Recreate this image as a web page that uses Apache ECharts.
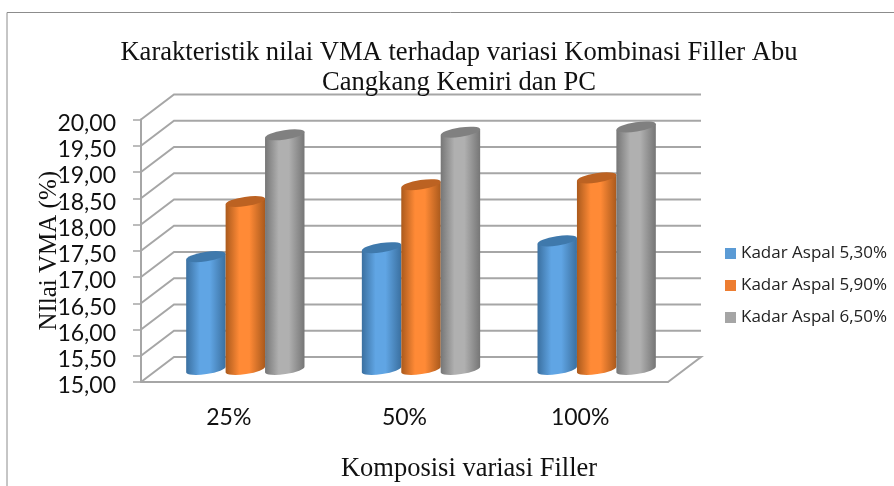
<!DOCTYPE html>
<html>
<head>
<meta charset="utf-8">
<style>html,body{margin:0;padding:0;background:#fff}#chart{width:894px;height:486px}</style>
<script src="https://cdn.jsdelivr.net/npm/echarts@6/dist/echarts.min.js"></script>
</head>
<body>
<div id="chart"></div>
<script>
var categories = ['25%', '50%', '100%'];
var seriesNames = ['Kadar Aspal 5,30%', 'Kadar Aspal 5,90%', 'Kadar Aspal 6,50%'];
var kadar530 = [17.15, 17.32, 17.45];
var kadar590 = [18.2, 18.52, 18.65];
var kadar650 = [19.47, 19.52, 19.62];
var yTicks = [15, 15.5, 16, 16.5, 17, 17.5, 18, 18.5, 19, 19.5, 20];

var legendColors = ['#5B9BD5', '#ED7D31', '#A5A5A5'];
// dark edge, bright middle, top cap
var shades = [
    ['#3A6F9F', '#60A5E4', '#3F79AC'],
    ['#A9591C', '#FF8A36', '#BC6222'],
    ['#757575', '#B0B0B0', '#808080']
];
var depthX = 33, depthY = 25;

function renderWall(params, api) {
    var y = api.coord([0, api.value(1)])[1];
    var cs = params.coordSys;
    var points = [[cs.x, y], [cs.x + depthX, y - depthY], [cs.x + cs.width + depthX, y - depthY]];
    if (params.dataIndex === 0) {
        points.push([cs.x + cs.width, y]);
    }
    return {
        type: 'polyline',
        shape: { points: points },
        style: { stroke: '#A6A6A6', lineWidth: 2, fill: null }
    };
}

function renderCylinder(params, api) {
    var s = params.seriesIndex - 1;
    var p = api.coord([api.value(0), api.value(1)]);
    var base = api.coord([api.value(0), 15]);
    var w = api.size([1, 0])[0] * 0.2245;
    var cx = p[0] + depthX / 2 + (s - 1) * w;
    var yT = p[1] - depthY / 2, yB = base[1] - depthY / 2;
    var r = w / 2, ry = 4.6, t = 3;
    var rot = -Math.atan(t / r) * 180 / Math.PI;
    var arc = ' A ' + r + ' ' + ry + ' ' + rot + ' 0 0 ';
    var c = shades[s];
    var body = 'M ' + (cx - r) + ' ' + (yT + t) +
        ' L ' + (cx - r) + ' ' + (yB + t) + arc + (cx + r) + ' ' + (yB - t) +
        ' L ' + (cx + r) + ' ' + (yT - t) + ' Z';
    var cap = 'M ' + (cx - r) + ' ' + (yT + t) + arc + (cx + r) + ' ' + (yT - t) +
        arc + (cx - r) + ' ' + (yT + t) + ' Z';
    return {
        type: 'group',
        children: [{
            type: 'path',
            shape: { pathData: body },
            style: {
                fill: new echarts.graphic.LinearGradient(0, 0, 1, 0, [
                    { offset: 0, color: c[0] },
                    { offset: 0.35, color: c[1] },
                    { offset: 0.6, color: c[1] },
                    { offset: 1, color: c[0] }
                ])
            }
        }, {
            type: 'path',
            shape: { pathData: cap },
            style: { fill: c[2] }
        }]
    };
}

function cylinderSeries(name, values) {
    return {
        name: name,
        type: 'custom',
        renderItem: renderCylinder,
        clip: false,
        encode: { x: 0, y: 1 },
        data: values.map(function (v, i) { return [i, v]; })
    };
}

var myChart = echarts.init(document.getElementById('chart'));
var option = {
    animation: false,
    title: [{
        text: 'Karakteristik nilai VMA terhadap variasi Kombinasi Filler Abu\nCangkang Kemiri dan PC',
        left: 454,
        top: 33,
        textAlign: 'center',
        textStyle: { fontFamily: 'Liberation Serif', fontSize: 26.6, fontWeight: 'normal', color: '#111', lineHeight: 30 }
    }, {
        text: 'Komposisi variasi Filler',
        left: 464,
        top: 451,
        textAlign: 'center',
        textStyle: { fontFamily: 'Liberation Serif', fontSize: 26.5, fontWeight: 'normal', color: '#111' }
    }],
    legend: {
        data: seriesNames,
        orient: 'vertical',
        left: 725,
        top: 245,
        padding: 0,
        icon: 'rect',
        itemWidth: 11,
        itemHeight: 11,
        itemGap: 15,
        selectedMode: false,
        textStyle: { fontFamily: 'Open Sans', fontSize: 17, color: '#222' }
    },
    grid: { left: 141, top: 119.5, width: 527, height: 262.5, containLabel: false },
    xAxis: {
        type: 'category',
        data: categories,
        axisLine: { lineStyle: { color: '#A6A6A6', width: 2 } },
        axisTick: { show: false },
        axisLabel: { fontFamily: 'Lato', fontSize: 23, color: '#111', margin: 24 }
    },
    yAxis: {
        type: 'value',
        min: 15,
        max: 20,
        interval: 0.5,
        name: 'NIlai VMA (%)',
        nameLocation: 'middle',
        nameGap: 79,
        nameRotate: 90,
        nameMoveOverlap: false,
        nameTextStyle: { fontFamily: 'Liberation Serif', fontSize: 25, color: '#111' },
        axisLine: { show: true, lineStyle: { color: '#A6A6A6', width: 2 } },
        axisTick: { show: true, length: 8, lineStyle: { color: '#A6A6A6', width: 1.5 } },
        axisLabel: {
            fontFamily: 'Lato', fontSize: 23, color: '#111', margin: 25,
            verticalAlign: 'top', lineHeight: 8,
            formatter: function (v) { return v.toFixed(2).replace('.', ','); }
        },
        splitLine: { show: false }
    },
    graphic: [{
        type: 'polyline',
        silent: true,
        shape: { points: [[7, 486], [7, 12.5], [894, 12.5]] },
        style: { stroke: '#8C8C8C', lineWidth: 1, fill: null }
    }],
    series: [{
        type: 'custom',
        name: 'walls',
        renderItem: renderWall,
        clip: false,
        silent: true,
        encode: { x: 0, y: 1 },
        data: yTicks.map(function (v) { return [0, v]; })
    },
    cylinderSeries(seriesNames[0], kadar530),
    cylinderSeries(seriesNames[1], kadar590),
    cylinderSeries(seriesNames[2], kadar650)]
};
option.color = ['#A6A6A6'].concat(legendColors);
myChart.setOption(option);
</script>
</body>
</html>
